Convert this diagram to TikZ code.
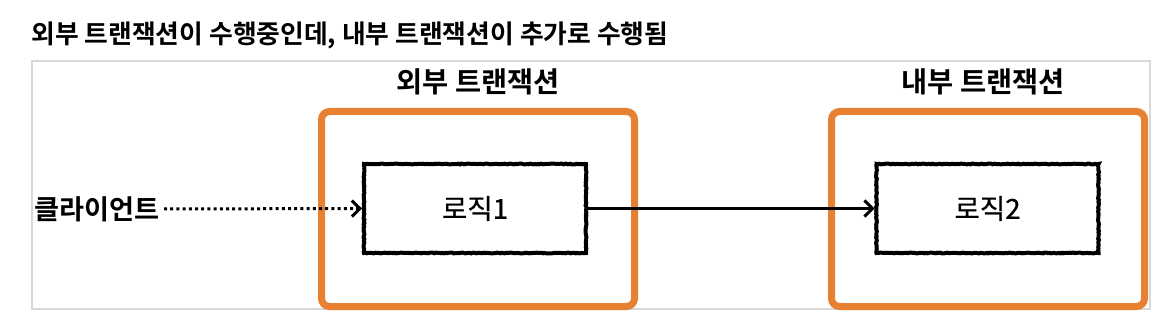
\documentclass[tikz,border=0pt]{standalone}
\usepackage{fontspec}
\setmainfont{Noto Sans CJK KR}[BoldFont={Noto Sans CJK KR Bold}]
\usepackage{tikz}
\usetikzlibrary{arrows.meta}
\usetikzlibrary{decorations.pathmorphing}

\definecolor{txorange}{RGB}{232,128,50}
\definecolor{framegray}{RGB}{216,216,216}

\begin{document}
\begin{tikzpicture}[x=0.5pt, y=-0.5pt, >={Straight Barb[length=4pt,width=8pt]},
    txbox/.style={draw=txorange, line width=3.5pt, rounded corners=4pt,
        minimum width=156.5pt, minimum height=97.5pt, inner sep=0pt},
    logicbox/.style={draw=black, line width=2pt, fill=white,
        decorate, decoration={random steps, segment length=0.8pt, amplitude=0.2pt},
        minimum width=111pt, minimum height=44.5pt, inner sep=0pt,
        font=\fontsize{13.8}{16}\selectfont\addfontfeature{FakeBold=0.6}},
    txlabel/.style={font=\fontsize{14.2}{17}\selectfont\bfseries}]

% =========================================================
% Outer transaction running, inner transaction joins
% =========================================================

% --- 1. CANVAS ---
\useasboundingbox (0,0) rectangle (1170,320);
\draw[framegray, line width=1pt] (32,61) rectangle (1150,309);

% Title
\node[anchor=west, inner sep=0pt, font=\fontsize{12.9}{15}\selectfont\bfseries] (title) at (31,35)
    {외부 트랜잭션이 수행중인데, 내부 트랜잭션이 추가로 수행됨};

% --- 2. TRANSACTION BOXES ---
\node[txbox] (outerTx) at (478,209) {};
\node[txbox] (innerTx) at (988,209) {};

\node[txlabel] (outerLabel) at (478,82) {외부 트랜잭션};
\node[txlabel] (innerLabel) at (983,82) {내부 트랜잭션};

% --- 3. LOGIC NODES ---
\node[logicbox] (logic1) at (475,208.5) {로직1};
\node[logicbox] (logic2) at (987.5,208.5) {로직2};

% Client
\node[anchor=east, inner sep=0pt, font=\fontsize{13.6}{16}\selectfont\bfseries] (client) at (160,209) {클라이언트};

% --- 4. CALLS ---
\draw[->, line width=1.5pt, dash pattern=on 1.5pt off 1.6pt, shorten <=2pt] (client.east) -- (logic1.west);
\draw[->, line width=1.5pt] (logic1.east) -- (logic2.west);

\end{tikzpicture}
\end{document}
